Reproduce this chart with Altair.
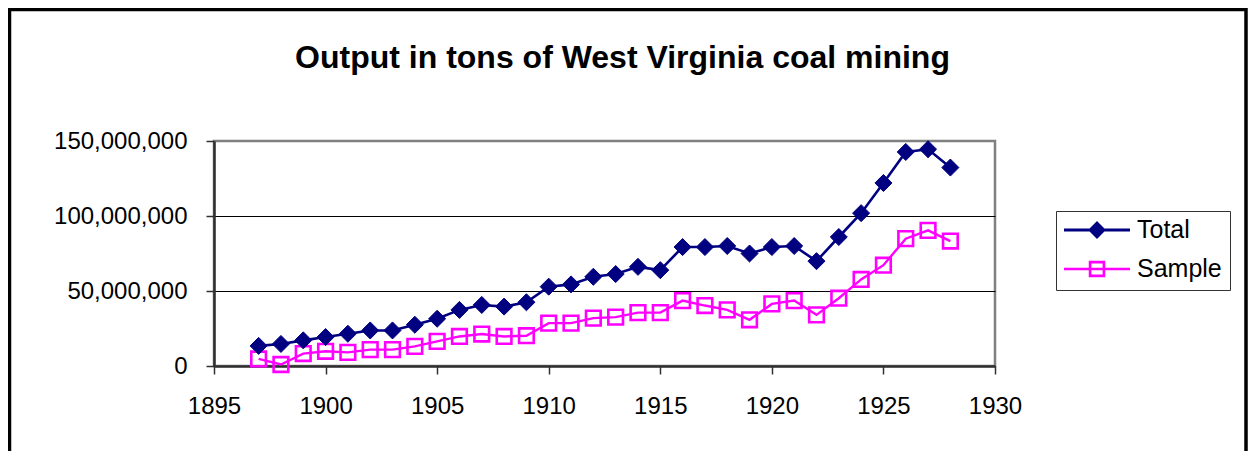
import altair as alt
import pandas as pd

# ---- data (millions of tons) ----
years = list(range(1897, 1929))
total_mt = [13.4, 14.7, 17.1, 19.3, 21.5, 23.7, 23.7, 27.5, 31.5, 37.4, 40.7, 39.6,
            42.5, 52.9, 54.4, 59.5, 61.3, 66.1, 63.9, 79.3, 79.3, 80.0, 75.0, 79.3,
            80.0, 69.9, 86.0, 101.9, 122.0, 142.7, 144.5, 132.3]
sample_mt = [4.7, 1.0, 8.3, 9.8, 9.1, 10.9, 10.9, 13.1, 16.4, 19.7, 21.3, 19.7,
             20.2, 28.6, 28.6, 31.9, 32.6, 35.6, 35.6, 43.6, 40.3, 37.4, 30.8, 41.4,
             43.6, 34.1, 45.2, 57.7, 67.2, 84.9, 90.4, 83.3]
series_names = ["Total", "Sample"]
series_colors = ["#000080", "#FF00FF"]
x_ticks = [1895, 1900, 1905, 1910, 1915, 1920, 1925, 1930]
y_ticks = [0, 50000000, 100000000, 150000000]
title_text = "Output in tons of West Virginia coal mining"

df = pd.DataFrame({
    "year": years * 2,
    "series": ["Total"] * len(years) + ["Sample"] * len(years),
    "tons": [v * 1e6 for v in total_mt] + [v * 1e6 for v in sample_mt],
})

FONT = "Liberation Sans, Arial, sans-serif"
W, H = 781, 225

x_enc = alt.X("year:Q",
              scale=alt.Scale(domain=[1895, 1930], nice=False, zero=False),
              axis=alt.Axis(values=x_ticks, format="d", title=None, grid=False,
                            labelFlush=False, tickSize=8, labelPadding=20))
y_enc = alt.Y("tons:Q",
              scale=alt.Scale(domain=[0, 150000000], nice=False),
              axis=alt.Axis(values=y_ticks, format=",d", title=None, grid=True,
                            gridColor={"condition": {"test": "datum.value >= 150000000",
                                                     "value": "#808080"},
                                       "value": "#000000"},
                            labelFlush=False, tickSize=8, labelPadding=19))
color_scale = alt.Scale(domain=series_names, range=series_colors)

# outer chart border
border = alt.Chart(alt.Data(values=[{"a": 1}])).mark_rect(
    filled=False, stroke="#000000", strokeWidth=3.5
).encode(x=alt.value(-204.5), x2=alt.value(1032.0), y=alt.value(-131.5), y2=alt.value(420))

title = alt.Chart(alt.Data(values=[{"t": title_text}])).mark_text(
    font=FONT, fontSize=32, fontWeight="bold", color="black",
    align="center", baseline="alphabetic"
).encode(text="t:N", x=alt.value(408.5), y=alt.value(-73.5))

line_total = alt.Chart(df).transform_filter("datum.series == 'Total'").mark_line(
    strokeWidth=2.6, color="#000080"
).encode(x=x_enc, y=y_enc)

line_sample = alt.Chart(df).transform_filter("datum.series == 'Sample'").mark_line(
    strokeWidth=2.4, color="#FF00FF"
).encode(x=x_enc, y=y_enc)

pts_total = alt.Chart(df).transform_filter("datum.series == 'Total'").mark_point(
    shape="diamond", filled=True, size=290, opacity=1, color="#000080",
    stroke="#000080", strokeWidth=1
).encode(x=x_enc, y=y_enc)

pts_sample = alt.Chart(df).transform_filter("datum.series == 'Sample'").mark_point(
    shape="square", filled=False, size=215, opacity=1, color="#FF00FF",
    strokeWidth=2.6
).encode(x=x_enc, y=y_enc)

# legend symbols: line through marker, drawn as filled paths
total_sym = ("M-1,-0.045L1,-0.045L1,0.045L-1,0.045Z"
             "M-0.27,0L0,-0.27L0.27,0L0,0.27Z")
sample_sym = ("M-1,-0.04L1,-0.04L1,0.04L-1,0.04Z"
              "M-0.25,-0.25L0.25,-0.25L0.25,0.25L-0.25,0.25Z"
              "M-0.17,-0.17L-0.17,0.17L0.17,0.17L0.17,-0.17Z")
legend_def = alt.Legend(
    title=None, orient="none", legendX=842, legendY=70,
    symbolSize=4356, clipHeight=22, rowPadding=14, padding=8, labelOffset=7,
    labelFontSize=25, labelFont=FONT, labelColor="black",
    strokeColor="#333333", fillColor="white", symbolStrokeWidth=0,
    symbolOpacity=1,
)
legend_layer = alt.Chart(df).transform_filter("false").mark_point(
    filled=True, opacity=1
).encode(
    x=x_enc, y=y_enc,
    color=alt.Color("series:N", scale=color_scale, legend=legend_def),
    shape=alt.Shape("series:N", scale=alt.Scale(domain=series_names,
                                                range=[total_sym, sample_sym]),
                    legend=legend_def),
)

chart = alt.layer(border, title, line_total, line_sample, pts_sample, pts_total,
                  legend_layer).properties(
    width=W, height=H,
    autosize=alt.AutoSizeParams(type="none"),
    padding={"left": 206, "top": 133, "right": 253, "bottom": 85},
    background="white",
).configure_view(
    stroke="#808080", strokeWidth=2.5
).configure_axis(
    labelFont=FONT, labelFontSize=24, labelColor="black",
    domainColor="#303030", domainWidth=2.5,
    tickColor="#303030", tickWidth=1.5,
    gridWidth=1.2,
)

chart.save("out.html", embed_options={"renderer": "svg", "actions": False})
